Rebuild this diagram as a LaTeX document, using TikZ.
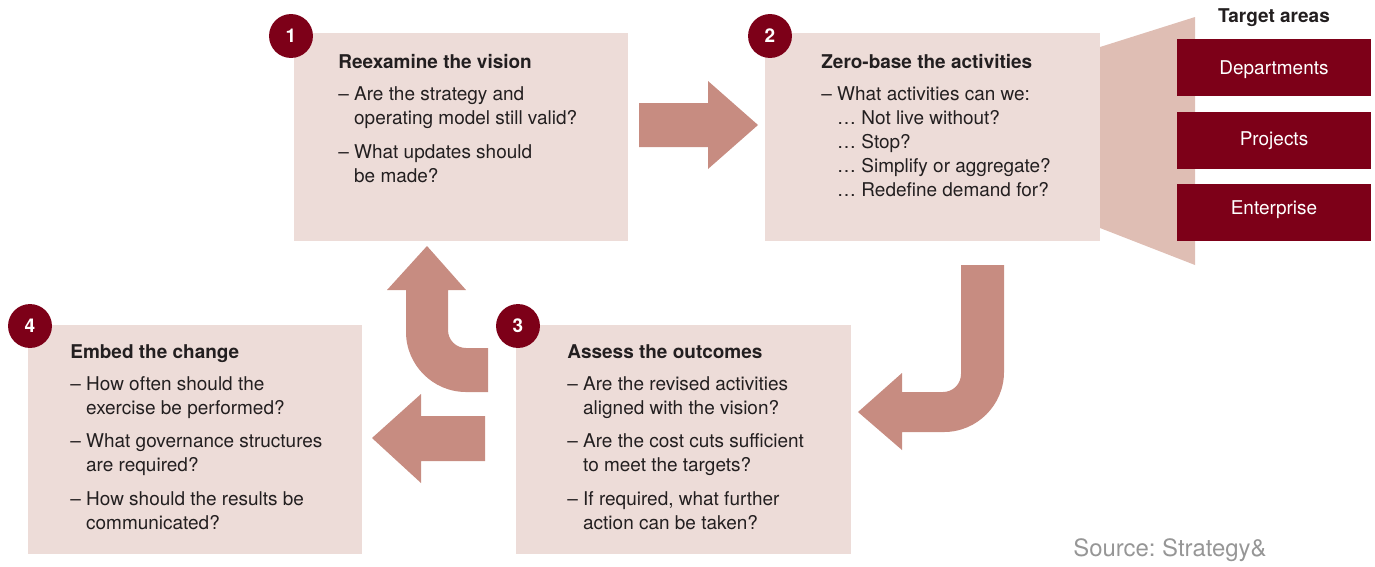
\documentclass[tikz,border=0pt]{standalone}
\usepackage{fontspec}
\setmainfont{TeX Gyre Heros}
\usepackage{tikz}

\definecolor{boxpink}{RGB}{237,220,216}
\definecolor{funnelpink}{RGB}{223,190,180}
\definecolor{arrowpink}{RGB}{199,140,129}
\definecolor{darkred}{RGB}{125,0,24}
\definecolor{inkgray}{RGB}{35,31,32}
\definecolor{srcgray}{RGB}{150,150,150}

\newcommand{\ind}{\hphantom{– }}

\begin{document}
\begin{tikzpicture}[x=0.02cm,y=-0.02cm,
    txt/.style={anchor=north west,align=left,inner sep=0,text=inkgray,
      font=\fontsize{10.8}{13.66}\selectfont},
    numdot/.style={circle,fill=darkred,text=white,minimum size=25pt,inner sep=0,
      text height=7.8pt,text depth=0pt,font=\fontsize{10.8}{13}\selectfont\bfseries},
    areabox/.style={fill=darkred,text=white,minimum width=110.4pt,
      minimum height=32.4pt,inner sep=0,text height=7.8pt,text depth=0pt,
      font=\fontsize{10.8}{13}\selectfont}]
        \useasboundingbox (0,0) rectangle (1375,566);

        % Funnel behind the target areas
        \path [fill=funnelpink] (1100,47) -- (1195,17) -- (1195,265) -- (1100,228) -- cycle;

        % Step boxes
        \path [fill=boxpink] (294,33) rectangle (628,241);
        \path [fill=boxpink] (765,33) rectangle (1100,241);
        \path [fill=boxpink] (516,325) rectangle (851,554);
        \path [fill=boxpink] (28,325) rectangle (362,554);

        % Block arrows
        \path [fill=arrowpink] (639,103) -- (708,103) -- (708,81) -- (758,125)
            -- (708,169) -- (708,147) -- (639,147) -- cycle;
        \path [fill=arrowpink] (1004,265) -- (1004,372)
            .. controls (1004,405) and (977,432) .. (944,432) -- (902,432)
            -- (902,450) -- (858,412) -- (902,373) -- (902,392) -- (943,392)
            .. controls (953,392) and (961,384) .. (961,374) -- (961,265) -- cycle;
        \path [fill=arrowpink] (485,416) -- (421,416) -- (421,394) -- (372,438)
            -- (421,483) -- (421,461) -- (485,461) -- cycle;
        \path [fill=arrowpink] (488,392) -- (466,392)
            .. controls (433,392) and (406,365) .. (406,332) -- (406,290)
            -- (387,290) -- (427,246) -- (466,290) -- (448,290) -- (448,330)
            .. controls (448,340) and (456,348) .. (466,348) -- (488,348) -- cycle;

        % Step texts
        \node [txt] (vision) at (338,54) {\textbf{Reexamine the vision}\\[4.5pt]
            – Are the strategy and\\ \ind operating model still valid?\\[5.5pt]
            – What updates should\\ \ind be made?};
        \node [txt] (zerobase) at (821,54) {\textbf{Zero-base the activities}\\[4.5pt]
            – What activities can we:\\ \ind … Not live without?\\
            \ind … Stop?\\ \ind … Simplify or aggregate?\\
            \ind … Redefine demand for?};
        \node [txt] (assess) at (567,344) {\textbf{Assess the outcomes}\\[4.5pt]
            – Are the revised activities\\ \ind aligned with the vision?\\[5.5pt]
            – Are the cost cuts sufficient\\ \ind to meet the targets?\\[5.5pt]
            – If required, what further\\ \ind action can be taken?};
        \node [txt] (embed) at (70,344) {\textbf{Embed the change}\\[4.5pt]
            – How often should the\\ \ind exercise be performed?\\[5.5pt]
            – What governance structures\\ \ind are required?\\[5.5pt]
            – How should the results be\\ \ind communicated?};

        % Step numbers
        \node [numdot] (n1) at (291,36) {1};
        \node [numdot] (n2) at (770,36) {2};
        \node [numdot] (n3) at (518,326) {3};
        \node [numdot] (n4) at (30,326) {4};

        % Target areas
        \node [text=inkgray,inner sep=0,text height=7.8pt,text depth=0pt,
            font=\fontsize{10.8}{13}\selectfont\bfseries] (areas)
            at (1274,16) {Target areas};
        \node [areabox] (dept) at (1274,67.5) {Departments};
        \node [areabox,text depth=1.7pt] (proj) at (1274,140.5) {Projects};
        \node [areabox,text depth=6pt] (ent) at (1274,212.5) {Enterprise};

        % Source
        \node [anchor=west,inner sep=0,text=srcgray,font=\fontsize{13.6}{16}\selectfont]
            (source) at (1073,550) {Source:\ Strategy\&};
    \end{tikzpicture}
\end{document}
